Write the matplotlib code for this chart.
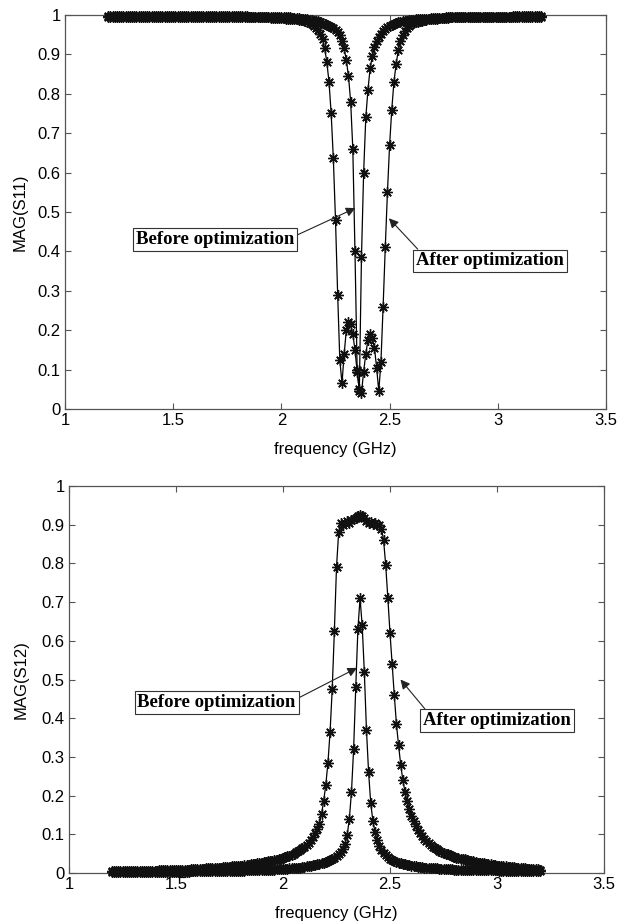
import numpy as np
import matplotlib
matplotlib.use("Agg")
import matplotlib.pyplot as plt

# frequency grid (GHz), 0.01 GHz step from 1.2 to 3.2
freq = np.round(np.arange(1.20, 3.2001, 0.01), 2)

# |S11| after optimization (wide dip)
s11_after = [
    0.996, 0.996, 0.996, 0.996, 0.996, 0.996, 0.996, 0.996, 0.996, 0.996,  # 1.2x
    0.996, 0.996, 0.996, 0.996, 0.996, 0.996, 0.996, 0.996, 0.996, 0.996,  # 1.3x
    0.996, 0.996, 0.996, 0.996, 0.996, 0.996, 0.996, 0.996, 0.996, 0.996,  # 1.4x
    0.996, 0.996, 0.996, 0.996, 0.996, 0.996, 0.996, 0.996, 0.996, 0.996,  # 1.5x
    0.996, 0.996, 0.996, 0.996, 0.996, 0.996, 0.996, 0.996, 0.996, 0.996,  # 1.6x
    0.996, 0.996, 0.996, 0.996, 0.995, 0.995, 0.995, 0.995, 0.995, 0.995,  # 1.7x
    0.995, 0.995, 0.995, 0.995, 0.995, 0.995, 0.995, 0.994, 0.994, 0.994,  # 1.8x
    0.994, 0.994, 0.994, 0.994, 0.994, 0.993, 0.993, 0.993, 0.993, 0.992,  # 1.9x
    0.992, 0.992, 0.991, 0.991, 0.990, 0.990, 0.989, 0.989, 0.988, 0.988,  # 2.0x
    0.987, 0.985, 0.983, 0.980, 0.976, 0.972, 0.968, 0.962, 0.953, 0.938,  # 2.1x
    0.915, 0.880, 0.830, 0.750, 0.636, 0.480, 0.290, 0.124, 0.065, 0.140,  # 2.2x
    0.200, 0.220, 0.215, 0.190, 0.150, 0.095, 0.050, 0.040, 0.095, 0.140,  # 2.3x
    0.175, 0.190, 0.180, 0.155, 0.105, 0.045, 0.120, 0.260, 0.410, 0.550,  # 2.4x
    0.670, 0.760, 0.830, 0.875, 0.910, 0.935, 0.950, 0.960, 0.967, 0.972,  # 2.5x
    0.976, 0.979, 0.981, 0.983, 0.985, 0.986, 0.987, 0.988, 0.989, 0.990,  # 2.6x
    0.990, 0.991, 0.991, 0.992, 0.992, 0.993, 0.993, 0.993, 0.994, 0.994,  # 2.7x
    0.994, 0.994, 0.994, 0.995, 0.995, 0.995, 0.995, 0.995, 0.995, 0.995,  # 2.8x
    0.995, 0.995, 0.995, 0.996, 0.996, 0.996, 0.996, 0.996, 0.996, 0.996,  # 2.9x
    0.996, 0.996, 0.996, 0.996, 0.996, 0.996, 0.996, 0.996, 0.996, 0.996,  # 3.0x
    0.996, 0.996, 0.996, 0.996, 0.996, 0.996, 0.996, 0.996, 0.996, 0.996,  # 3.1x
    0.996,                                                                  # 3.2
]

# |S11| before optimization (narrow dip)
s11_before = [
    0.997, 0.997, 0.997, 0.997, 0.997, 0.997, 0.997, 0.997, 0.997, 0.997,  # 1.2x
    0.997, 0.997, 0.997, 0.997, 0.997, 0.997, 0.997, 0.997, 0.997, 0.997,  # 1.3x
    0.997, 0.997, 0.997, 0.997, 0.997, 0.997, 0.997, 0.997, 0.997, 0.997,  # 1.4x
    0.997, 0.997, 0.997, 0.997, 0.997, 0.997, 0.997, 0.997, 0.997, 0.997,  # 1.5x
    0.997, 0.997, 0.997, 0.997, 0.997, 0.997, 0.997, 0.997, 0.997, 0.997,  # 1.6x
    0.997, 0.997, 0.997, 0.997, 0.997, 0.997, 0.997, 0.997, 0.997, 0.997,  # 1.7x
    0.997, 0.997, 0.997, 0.997, 0.997, 0.996, 0.996, 0.996, 0.996, 0.996,  # 1.8x
    0.996, 0.996, 0.996, 0.996, 0.996, 0.995, 0.995, 0.995, 0.995, 0.995,  # 1.9x
    0.995, 0.995, 0.994, 0.994, 0.994, 0.993, 0.993, 0.992, 0.992, 0.991,  # 2.0x
    0.991, 0.990, 0.989, 0.988, 0.987, 0.986, 0.985, 0.984, 0.982, 0.980,  # 2.1x
    0.977, 0.975, 0.972, 0.969, 0.966, 0.962, 0.957, 0.948, 0.935, 0.915,  # 2.2x
    0.885, 0.845, 0.780, 0.660, 0.400, 0.100, 0.045, 0.385, 0.600, 0.740,  # 2.3x
    0.810, 0.865, 0.895, 0.918, 0.933, 0.945, 0.953, 0.960, 0.965, 0.969,  # 2.4x
    0.972, 0.975, 0.977, 0.979, 0.981, 0.983, 0.984, 0.985, 0.986, 0.987,  # 2.5x
    0.988, 0.988, 0.989, 0.989, 0.990, 0.990, 0.991, 0.991, 0.991, 0.992,  # 2.6x
    0.992, 0.992, 0.993, 0.993, 0.993, 0.993, 0.994, 0.994, 0.994, 0.994,  # 2.7x
    0.994, 0.995, 0.995, 0.995, 0.995, 0.995, 0.995, 0.995, 0.995, 0.995,  # 2.8x
    0.996, 0.996, 0.996, 0.996, 0.996, 0.996, 0.996, 0.996, 0.996, 0.996,  # 2.9x
    0.996, 0.996, 0.996, 0.996, 0.996, 0.996, 0.996, 0.997, 0.997, 0.997,  # 3.0x
    0.997, 0.997, 0.997, 0.997, 0.997, 0.997, 0.997, 0.997, 0.997, 0.997,  # 3.1x
    0.997,                                                                  # 3.2
]

# |S12| after optimization (wide passband)
s12_after = [
    0.004, 0.004, 0.004, 0.004, 0.004, 0.004, 0.005, 0.005, 0.005, 0.005,  # 1.2x
    0.005, 0.005, 0.005, 0.005, 0.005, 0.006, 0.006, 0.006, 0.006, 0.006,  # 1.3x
    0.006, 0.006, 0.007, 0.007, 0.007, 0.007, 0.007, 0.007, 0.008, 0.008,  # 1.4x
    0.008, 0.008, 0.008, 0.009, 0.009, 0.009, 0.009, 0.010, 0.010, 0.010,  # 1.5x
    0.010, 0.011, 0.011, 0.011, 0.012, 0.012, 0.012, 0.013, 0.013, 0.014,  # 1.6x
    0.014, 0.014, 0.015, 0.015, 0.016, 0.016, 0.017, 0.017, 0.018, 0.018,  # 1.7x
    0.019, 0.019, 0.020, 0.021, 0.021, 0.022, 0.023, 0.024, 0.025, 0.026,  # 1.8x
    0.027, 0.028, 0.029, 0.030, 0.031, 0.032, 0.033, 0.034, 0.036, 0.037,  # 1.9x
    0.039, 0.041, 0.043, 0.045, 0.047, 0.050, 0.053, 0.056, 0.060, 0.064,  # 2.0x
    0.068, 0.073, 0.078, 0.084, 0.092, 0.103, 0.114, 0.127, 0.152, 0.186,  # 2.1x
    0.228, 0.285, 0.365, 0.475, 0.625, 0.790, 0.880, 0.905, 0.900, 0.905,  # 2.2x
    0.910, 0.905, 0.912, 0.915, 0.918, 0.922, 0.925, 0.922, 0.917, 0.910,  # 2.3x
    0.905, 0.908, 0.902, 0.905, 0.900, 0.900, 0.890, 0.860, 0.795, 0.710,  # 2.4x
    0.620, 0.540, 0.460, 0.385, 0.330, 0.280, 0.240, 0.210, 0.185, 0.165,  # 2.5x
    0.148, 0.134, 0.122, 0.112, 0.103, 0.095, 0.088, 0.082, 0.077, 0.072,  # 2.6x
    0.068, 0.064, 0.061, 0.058, 0.055, 0.052, 0.050, 0.048, 0.046, 0.044,  # 2.7x
    0.042, 0.040, 0.039, 0.037, 0.036, 0.035, 0.033, 0.032, 0.031, 0.030,  # 2.8x
    0.028, 0.027, 0.026, 0.025, 0.025, 0.024, 0.023, 0.022, 0.021, 0.020,  # 2.9x
    0.019, 0.019, 0.018, 0.017, 0.017, 0.016, 0.016, 0.015, 0.015, 0.014,  # 3.0x
    0.013, 0.013, 0.012, 0.012, 0.011, 0.011, 0.011, 0.010, 0.010, 0.010,  # 3.1x
    0.009,                                                                  # 3.2
]

# |S12| before optimization (narrow peak)
s12_before = [
    0.002, 0.002, 0.002, 0.002, 0.002, 0.002, 0.002, 0.002, 0.002, 0.002,  # 1.2x
    0.002, 0.002, 0.002, 0.002, 0.002, 0.002, 0.002, 0.002, 0.002, 0.002,  # 1.3x
    0.003, 0.003, 0.003, 0.003, 0.003, 0.003, 0.003, 0.003, 0.003, 0.003,  # 1.4x
    0.003, 0.003, 0.003, 0.003, 0.003, 0.003, 0.003, 0.004, 0.004, 0.004,  # 1.5x
    0.004, 0.004, 0.004, 0.004, 0.004, 0.004, 0.004, 0.005, 0.005, 0.005,  # 1.6x
    0.005, 0.005, 0.005, 0.005, 0.005, 0.005, 0.006, 0.006, 0.006, 0.006,  # 1.7x
    0.006, 0.006, 0.006, 0.007, 0.007, 0.007, 0.007, 0.007, 0.008, 0.008,  # 1.8x
    0.008, 0.008, 0.008, 0.009, 0.009, 0.009, 0.009, 0.010, 0.010, 0.010,  # 1.9x
    0.011, 0.011, 0.011, 0.012, 0.012, 0.013, 0.013, 0.014, 0.014, 0.015,  # 2.0x
    0.016, 0.017, 0.018, 0.019, 0.020, 0.021, 0.022, 0.024, 0.025, 0.027,  # 2.1x
    0.029, 0.031, 0.033, 0.036, 0.040, 0.044, 0.049, 0.055, 0.063, 0.075,  # 2.2x
    0.098, 0.140, 0.210, 0.320, 0.480, 0.630, 0.710, 0.640, 0.520, 0.370,  # 2.3x
    0.260, 0.180, 0.135, 0.105, 0.085, 0.070, 0.060, 0.052, 0.046, 0.041,  # 2.4x
    0.037, 0.034, 0.031, 0.029, 0.027, 0.025, 0.023, 0.022, 0.021, 0.020,  # 2.5x
    0.019, 0.018, 0.017, 0.016, 0.016, 0.015, 0.014, 0.014, 0.013, 0.013,  # 2.6x
    0.012, 0.012, 0.012, 0.011, 0.011, 0.011, 0.010, 0.010, 0.010, 0.010,  # 2.7x
    0.009, 0.009, 0.009, 0.009, 0.009, 0.008, 0.008, 0.008, 0.008, 0.008,  # 2.8x
    0.008, 0.008, 0.007, 0.007, 0.007, 0.007, 0.007, 0.007, 0.007, 0.007,  # 2.9x
    0.007, 0.006, 0.006, 0.006, 0.006, 0.006, 0.006, 0.006, 0.006, 0.006,  # 3.0x
    0.006, 0.005, 0.005, 0.005, 0.005, 0.005, 0.005, 0.005, 0.005, 0.005,  # 3.1x
    0.005,                                                                  # 3.2
]

x_ticks = [1, 1.5, 2, 2.5, 3, 3.5]
x_tick_labels = ["1", "1.5", "2", "2.5", "3", "3.5"]
y_ticks = [0, 0.1, 0.2, 0.3, 0.4, 0.5, 0.6, 0.7, 0.8, 0.9, 1]
y_tick_labels = ["0", "0.1", "0.2", "0.3", "0.4", "0.5", "0.6", "0.7", "0.8", "0.9", "1"]

plt.rcParams["font.family"] = ["Liberation Sans", "DejaVu Sans"]

W, H = 621, 922
fig = plt.figure(figsize=(W / 100, H / 100), dpi=100)

# axes boxes in pixels: left, top, right, bottom
boxes = [(65, 15, 606, 409), (69, 486, 604, 873)]
axes = []
for l, t, r, b in boxes:
    axes.append(fig.add_axes([l / W, 1 - b / H, (r - l) / W, (b - t) / H]))

spine_col = "#555555"
marker = (8, 2, 0)  # asterisk, like matlab '*'


def style_axes(ax, ylabel):
    ax.set_xlim(1, 3.5)
    ax.set_ylim(0, 1)
    ax.set_xticks(x_ticks)
    ax.set_xticklabels(x_tick_labels)
    ax.set_yticks(y_ticks)
    ax.set_yticklabels(y_tick_labels)
    ax.tick_params(direction="in", length=4, width=0.8, color=spine_col,
                   labelsize=12, top=True, right=True, pad=3)
    for s in ax.spines.values():
        s.set_color(spine_col)
        s.set_linewidth(0.9)
    ax.set_xlabel("frequency (GHz)", fontsize=12)
    ax.set_ylabel(ylabel, fontsize=12)


def plot_curve(ax, y):
    ax.plot(freq, y, "-", color="black", lw=0.9, marker=marker, ms=7.5,
            mew=1.0, mec="#111111", clip_on=False, zorder=3)


def label_box(ax, text, xy, xytext, relpos):
    ax.annotate(text, xy=xy, xytext=xytext, ha="center", va="center",
                fontsize=13.5, fontweight="bold", family="Liberation Serif",
                bbox=dict(boxstyle="square,pad=0.15", fc="white", ec="#333333", lw=0.8),
                arrowprops=dict(arrowstyle="-|>", color="#222222", lw=0.8,
                                mutation_scale=14, relpos=relpos,
                                shrinkA=0, shrinkB=0),
                zorder=5)


ax1, ax2 = axes

plot_curve(ax1, s11_after)
plot_curve(ax1, s11_before)
style_axes(ax1, "MAG(S11)")
ax1.xaxis.set_label_coords(0.5, -0.085)
ax1.yaxis.set_label_coords(-0.07, 0.5)
label_box(ax1, "Before optimization", (2.342, 0.51), (1.695, 0.43), (1.0, 0.7))
label_box(ax1, "After optimization", (2.497, 0.484), (2.965, 0.376), (0.03, 1.0))

plot_curve(ax2, s12_after)
plot_curve(ax2, s12_before)
style_axes(ax2, "MAG(S12)")
ax2.xaxis.set_label_coords(0.5, -0.085)
ax2.yaxis.set_label_coords(-0.075, 0.5)
label_box(ax2, "Before optimization", (2.346, 0.53), (1.69, 0.44), (1.0, 0.7))
label_box(ax2, "After optimization", (2.549, 0.50), (3.0, 0.394), (0.03, 1.0))

fig.savefig("out.png", dpi=100)
